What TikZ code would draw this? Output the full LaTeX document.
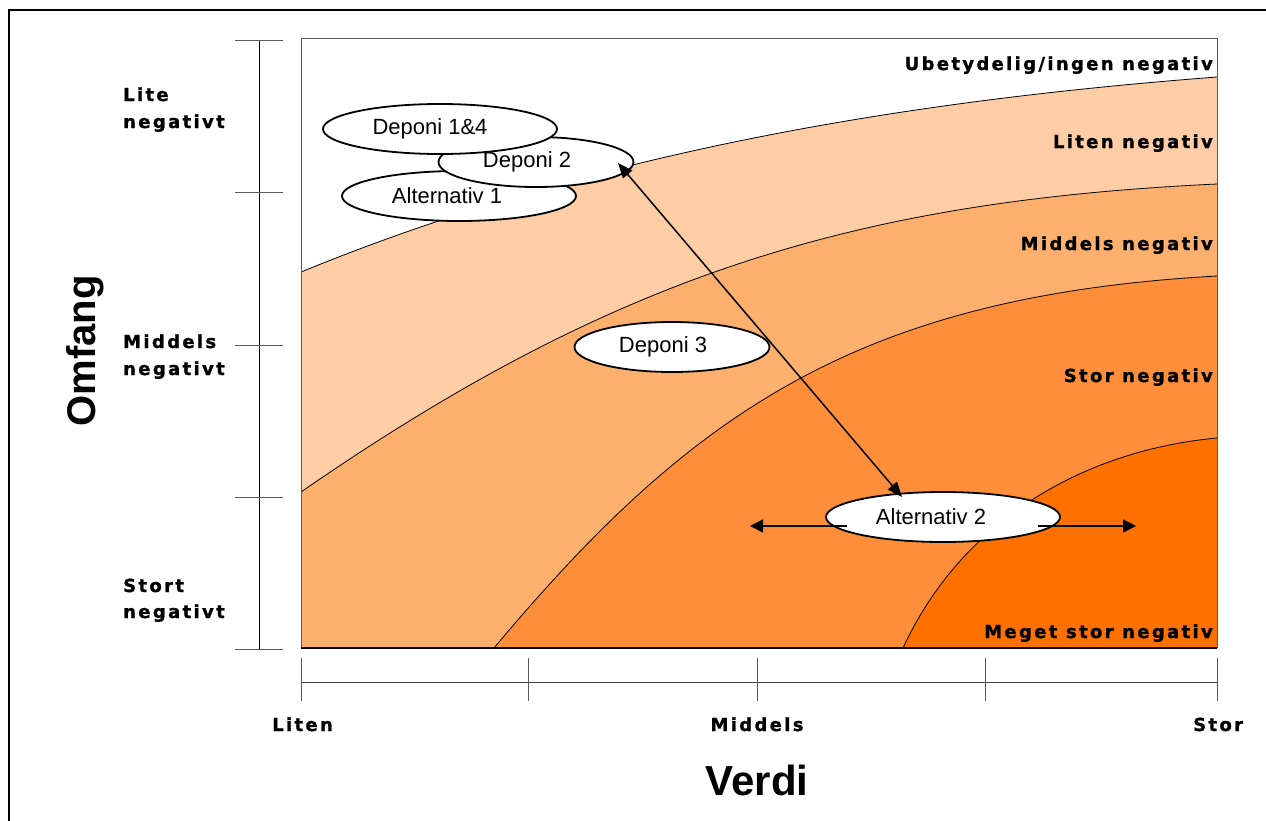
\documentclass[tikz,border=0pt]{standalone}
\usepackage{fontspec}
\setmainfont{Liberation Sans}
\newfontfamily\lblfont[LetterSpace=13,BoldFeatures={FakeBold=1.2}]{DejaVu Sans}
\usetikzlibrary{arrows.meta,shapes.geometric}
\definecolor{cPeach}{RGB}{254,205,166}
\definecolor{cMid}{RGB}{253,176,110}
\definecolor{cOrange}{RGB}{254,142,58}
\definecolor{cDark}{RGB}{254,112,0}
\begin{document}
\begin{tikzpicture}[x=1pt,y=-1pt,
  bubble/.style={draw=black,line width=1.8pt,fill=white,ellipse,inner sep=0pt,minimum height=50pt,font=\fontsize{22pt}{26pt}\selectfont},
  bigbub/.style={bubble,minimum width=234pt},
  smallbub/.style={bubble,minimum width=195pt},
  lbl/.style={font=\lblfont\bfseries\fontsize{18pt}{22pt}\selectfont,inner sep=0pt},
  bdry/.style={draw=black,line width=0.8pt},
  tickline/.style={draw=black!65,line width=1pt},
  conn/.style={line width=1.5pt,{Triangle[length=15pt,width=12pt]}-{Triangle[length=15pt,width=12pt]}},
  harrow/.style={line width=1.5pt,-{Triangle[length=13pt,width=13pt]}}
]
\useasboundingbox (0,0) rectangle (1266,820);
% outer frame
\draw[line width=2pt] (9,10) rectangle (1300,850);
% plot area
\fill[white] (301,38) rectangle (1217,648);
\begin{scope}
\clip (301,38) rectangle (1217,648);
\fill[cPeach] (301,272) .. controls (601,149) and (917,100) .. (1217,77) -- (1217,648) -- (301,648) -- cycle;
\fill[cMid] (301,492) .. controls (616,274) and (857,201) .. (1217,184) -- (1217,648) -- (301,648) -- cycle;
\fill[cOrange] (494,648) .. controls (690,414) and (857,296) .. (1217,276) -- (1217,648) -- cycle;
\fill[cDark] (903,648) .. controls (963,518) and (1087,450) .. (1217,438) -- (1217,648) -- cycle;
\draw[bdry] (301,272) .. controls (601,149) and (917,100) .. (1217,77);
\draw[bdry] (301,492) .. controls (616,274) and (857,201) .. (1217,184);
\draw[bdry] (494,648) .. controls (690,414) and (857,296) .. (1217,276);
\draw[bdry] (903,648) .. controls (963,518) and (1087,450) .. (1217,438);
\end{scope}
\draw[draw=black!65,line width=1pt] (301,38) -- (1217,38) -- (1217,648);
\draw[draw=black!65,line width=1pt] (301,38) -- (301,648);
\draw[draw=black,line width=1.2pt] (301,648) -- (1217,648);
% left axis
\draw[black,line width=1pt] (259,40) -- (259,649);
\foreach \yy in {40,192,345,497,649} \draw[tickline] (235,\yy) -- (283,\yy);
% bottom axis
\draw[black!75,line width=1pt] (301,682) -- (1217,682);
\foreach \xx in {301,528,757,985,1217} \draw[tickline] (\xx,658) -- (\xx,701);
% region labels
\node[lbl,anchor=base east] (l1) at (1213,70) {Ubetydelig/ingen negativ};
\node[lbl,anchor=base east] (l2) at (1213,148) {Liten negativ};
\node[lbl,anchor=base east] (l3) at (1213,250) {Middels negativ};
\node[lbl,anchor=base east] (l4) at (1213,382) {Stor negativ};
\node[lbl,anchor=base east] (l5) at (1213,638) {Meget stor negativ};
% left axis labels
\node[lbl,anchor=base west] (o1a) at (123,101) {Lite};
\node[lbl,anchor=base west] (o1b) at (123,128) {negativt};
\node[lbl,anchor=base west] (o2a) at (123,348) {Middels};
\node[lbl,anchor=base west] (o2b) at (123,375) {negativt};
\node[lbl,anchor=base west] (o3a) at (123,592) {Stort};
\node[lbl,anchor=base west] (o3b) at (123,618) {negativt};
% bottom axis labels
\node[lbl,anchor=base west] (v1) at (272,731) {Liten};
\node[lbl,anchor=base] (v2) at (757,731) {Middels};
\node[lbl,anchor=base west] (v3) at (1193,731) {Stor};
% axis titles
\node[font=\bfseries\fontsize{42pt}{46pt}\selectfont,anchor=base,inner sep=0pt] (verdi) at (757,795) {Verdi};
\node[font=\bfseries\fontsize{40pt}{44pt}\selectfont,rotate=90,anchor=base,inner sep=0pt] (omfang) at (95,351) {Omfang};
% ellipses
\node[bigbub] (alt1) at (459,196) {Alternativ 1\hspace*{24pt}};
\node[smallbub] (dep2) at (536,162) {Deponi 2\hspace*{18pt}};
\node[bigbub] (dep14) at (440,129) {Deponi 1\&4\hspace*{20pt}};
\node[smallbub] (dep3) at (672,347) {Deponi 3\hspace*{18pt}};
\node[bigbub] (alt2) at (943,517) {Alternativ 2\hspace*{24pt}};
% arrows
\coordinate (p1) at (618,163);
\coordinate (p2) at (902,497);
\draw[conn] (p1) -- (p2);
\coordinate (hl0) at (847,526);
\coordinate (hl1) at (750,526);
\coordinate (hr0) at (1038,526);
\coordinate (hr1) at (1136,526);
\draw[harrow] (hl0) -- (hl1);
\draw[harrow] (hr0) -- (hr1);
\end{tikzpicture}
\end{document}
